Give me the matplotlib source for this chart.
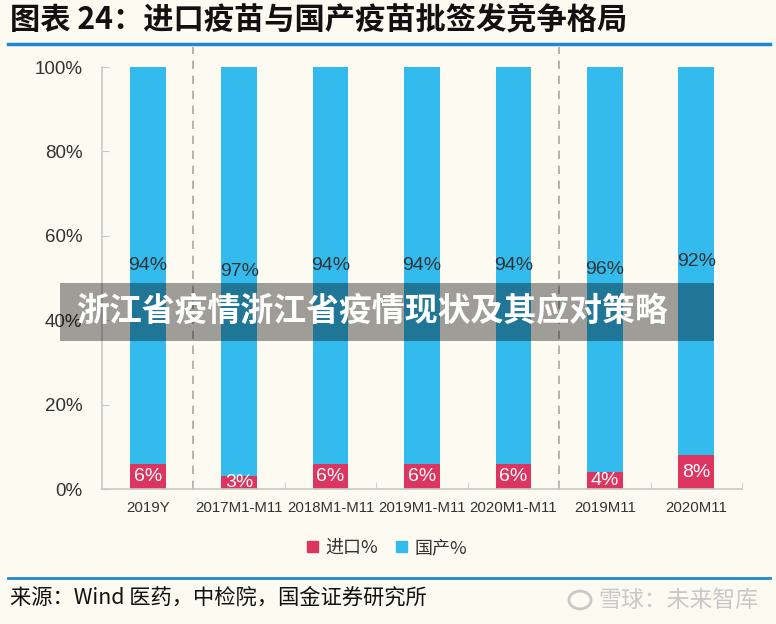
import matplotlib
matplotlib.use("Agg")
import matplotlib.pyplot as plt
from matplotlib.patches import Rectangle, Circle
from matplotlib.lines import Line2D

plt.rcParams['font.family'] = ['Noto Sans CJK SC', 'DejaVu Sans']

categories = ["2019Y", "2017M1-M11", "2018M1-M11", "2019M1-M11", "2020M1-M11", "2019M11", "2020M11"]
import_pct = [6, 3, 6, 6, 6, 4, 8]
domestic_pct = [94, 97, 94, 94, 94, 96, 92]
series_names = ["进口%", "国产%"]
yticks = [0, 20, 40, 60, 80, 100]
title = "图表 24：进口疫苗与国产疫苗批签发竞争格局"
source = "来源：Wind 医药，中检院，国金证券研究所"
banner = "浙江省疫情浙江省疫情现状及其应对策略"
watermark = "雪球：未来智库"

W, H = 776, 624
bg = "#FDFAF1"
red = "#DC3560"
blue = "#33BBEE"
num_font = ['Liberation Sans', 'DejaVu Sans']

fig = plt.figure(figsize=(W / 100, H / 100), dpi=100, facecolor=bg)

x0, x1 = 102, 742
y_top, y_bot = 67, 489
ax = fig.add_axes([x0 / W, 1 - y_bot / H, (x1 - x0) / W, (y_bot - y_top) / H])
ax.set_facecolor(bg)

xs = list(range(len(categories)))
bw = 0.39
ax.bar(xs, import_pct, width=bw, color=red, zorder=2)
ax.bar(xs, domestic_pct, bottom=import_pct, width=bw, color=blue, zorder=2)

for x, a, d in zip(xs, import_pct, domestic_pct):
    ax.text(x, a / 2, f"{a}%", ha="center", va="center", color="white", fontsize=14,
            family=num_font, zorder=3)
    ax.text(x, a + d / 2, f"{d}%", ha="center", va="center", color="#333333", fontsize=14,
            family=num_font, zorder=3)

ax.set_xlim(-0.5, len(categories) - 0.5)
ax.set_ylim(0, 100)
ax.set_yticks(yticks)
ax.set_yticklabels([f"{v}%" for v in yticks], fontsize=13.5, color="#333333", family=num_font)
ax.set_xticks(xs)
ax.set_xticklabels(categories, fontsize=10.8, color="#333333", family=num_font)
ax.set_xticks([x + 0.5 for x in xs], minor=True)
ax.tick_params(axis='x', which='major', length=0, pad=9)
ax.tick_params(axis='x', which='minor', direction='in', length=5, color="#C8C8C8")
ax.tick_params(axis='y', direction='in', length=5, color="#C8C8C8", pad=14)
for s in ["top", "right"]:
    ax.spines[s].set_visible(False)
for s in ["left", "bottom"]:
    ax.spines[s].set_color("#C8C8C8")
    ax.spines[s].set_linewidth(1.2)

for xv in [0.5, 4.5]:
    ax.plot([xv, xv], [0, 104.7], ls=(0, (5, 4)), color="#A8A8A8", lw=1.2, clip_on=False, zorder=1)

handles = [Rectangle((0, 0), 1, 1, color=red), Rectangle((0, 0), 1, 1, color=blue)]
fig.legend(handles, series_names, loc="center", bbox_to_anchor=(387 / W, 1 - 548 / H), ncol=2,
           frameon=False, fontsize=13, handlelength=0.6, handleheight=0.6, handletextpad=0.4,
           columnspacing=1.0, labelcolor="#333333")

fig.text(10 / W, 1 - 19 / H, title, fontsize=21.8, fontweight="bold", va="center", ha="left", color="#111111")
fig.add_artist(Line2D([8 / W, 770 / W], [1 - 44 / H, 1 - 44 / H], color="#1E88D0", lw=2.5))
fig.add_artist(Line2D([8 / W, 770 / W], [1 - 578 / H, 1 - 578 / H], color="#1E88D0", lw=2.0))
fig.text(10 / W, 1 - 598 / H, source, fontsize=15.3, va="center", ha="left", color="#111111")
fig.text(758 / W, 1 - 600 / H, watermark, fontsize=16.5, va="center", ha="right", color="#C8C8C8")
fig.add_artist(Circle((580 / W, 1 - 600 / H), 11 / W, transform=fig.transFigure, facecolor="none",
                      edgecolor="#C8C8C8", lw=2))

fig.add_artist(Rectangle((60 / W, 1 - 341 / H), (714 - 60) / W, 58 / H, transform=fig.transFigure,
                         facecolor="black", alpha=0.37, edgecolor="none", zorder=10))
fig.text(76 / W, 1 - 311 / H, banner, fontsize=23.7, fontweight="bold", color="white", va="center",
         ha="left", zorder=11)

fig.savefig("out.png", dpi=100, facecolor=bg)
